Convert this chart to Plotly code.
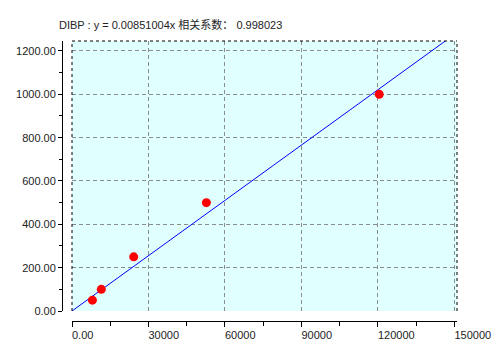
import plotly.graph_objects as go

# Data
conc_x = [8000, 11500, 24200, 52700, 120500]
resp_y = [50, 100, 250, 500, 1000]
slope = 0.00851004
r_coef = 0.998023
analyte = "DIBP"

x_tick_vals = [0, 30000, 60000, 90000, 120000, 150000]
x_tick_text = ["0.00", "30000", "60000", "90000", "120000", "150000"]
y_tick_vals = [0, 200, 400, 600, 800, 1000, 1200]

x_max = 151000
y_max = 1246

line_x = [0, x_max]
line_y = [slope * v for v in line_x]

W, H = 495, 353
ml, mr, mt, mb = 62, 38, 41, 32
pw = W - ml - mr
ph = H - mt - mb

fig = go.Figure()
fig.add_trace(go.Scatter(x=line_x, y=line_y, mode="lines",
                         line=dict(color="#0000FF", width=1), showlegend=False,
                         hoverinfo="skip"))
fig.add_trace(go.Scatter(x=conc_x, y=resp_y, mode="markers",
                         marker=dict(color="#FF0000", size=9, symbol="circle",
                                     line=dict(width=0)),
                         showlegend=False))

font = dict(family="Liberation Sans, Arial, sans-serif", size=11, color="#222222")

fig.update_layout(
    width=W, height=H,
    margin=dict(l=ml, r=mr, t=mt, b=mb, pad=0, autoexpand=False),
    paper_bgcolor="white",
    plot_bgcolor="#E0FFFF",
    font=font,
    xaxis=dict(
        domain=[10 / pw, 1], anchor="free", position=0, automargin=False,
        range=[0, x_max], tickmode="array", tickvals=x_tick_vals, ticktext=x_tick_text,
        showline=True, linecolor="black", linewidth=1,
        ticks="outside", ticklen=5, tickcolor="black",
        ticklabelposition="outside right", ticklabelstandoff=4, ticklabelshift=-1,
        minor=dict(dtick=15000, tick0=0, ticks="outside", ticklen=4, tickcolor="black", showgrid=False),
        showgrid=True, gridcolor="#8c8c8c", gridwidth=1, griddash="4px,3px",
        zeroline=False, fixedrange=True,
    ),
    yaxis=dict(
        domain=[10 / ph, 1], anchor="free", position=0, automargin=False,
        range=[0, y_max], tickmode="array", tickvals=y_tick_vals, tickformat=".2f",
        showline=True, linecolor="black", linewidth=1,
        ticks="outside", ticklen=4, tickcolor="black",
        minor=dict(dtick=100, tick0=0, ticks="outside", ticklen=3, tickcolor="black", showgrid=False),
        showgrid=True, gridcolor="#8c8c8c", gridwidth=1, griddash="4px,3px",
        zeroline=False, fixedrange=True,
    ),
)

border = dict(color="black", width=1, dash="3px,3px")
fig.add_shape(type="line", xref="x domain", yref="y domain", x0=0, x1=0, y0=0, y1=1, line=border)
fig.add_shape(type="line", xref="x domain", yref="y domain", x0=0, x1=1, y0=1, y1=1, line=border)
fig.add_shape(type="line", xref="x domain", yref="y domain", x0=1, x1=1, y0=0, y1=1, line=border)

fig.add_annotation(
    xref="paper", yref="paper", x=(57 - ml) / pw, y=1 + (mt - 24) / ph,
    xanchor="left", yanchor="middle", showarrow=False,
    text=f"{analyte} : y = {slope:.8f}x 相关系数： {r_coef}",
    font=dict(family="Liberation Sans, Noto Sans CJK SC, sans-serif", size=11, color="#222222"),
)

fig.write_html("out.html")
